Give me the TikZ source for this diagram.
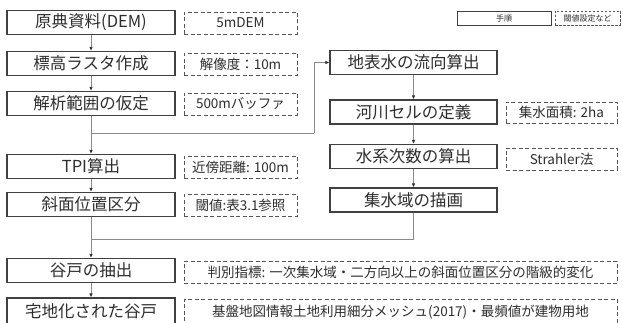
\documentclass[tikz,border=0pt]{standalone}
\usepackage{fontspec}
\setmainfont{Noto Sans CJK JP}
\usetikzlibrary{arrows.meta}
\definecolor{boxc}{HTML}{404040}
\definecolor{dashc}{HTML}{555555}
\definecolor{txtc}{HTML}{2E2E2E}
\definecolor{linec}{HTML}{8A8A8A}
\definecolor{arrc}{HTML}{333333}
\tikzset{
  stepbox/.style={draw=boxc, line width=1.1pt, minimum height=24pt, inner sep=0pt, text=txtc, font=\fontsize{16.5}{18}\selectfont},
  leftbox/.style={stepbox, minimum width=168pt},
  rightbox/.style={stepbox, minimum width=167pt},
  parambox/.style={draw=dashc, line width=0.9pt, dash pattern=on 4pt off 2.5pt, inner sep=0pt, minimum height=22pt, text=txtc, font=\fontsize{13.5}{15}\selectfont},
  conn/.style={draw=linec, line width=0.8pt},
  arr/.style={conn, -{Latex[length=4pt,width=3.5pt,color=arrc]}},
  legsolid/.style={draw=boxc, line width=0.7pt, inner sep=0pt, minimum height=14pt, text=txtc, font=\fontsize{8}{9}\selectfont},
  legdash/.style={legsolid, draw=dashc, dash pattern=on 2.5pt off 1.5pt}
}
\begin{document}
\begin{tikzpicture}[x=1pt,y=-1pt]
\fill[white] (0,0) rectangle (623,323);
\useasboundingbox (0,0) rectangle (623,323);
% left column
\node[leftbox] (n1) at (91,22.5) {原典資料(DEM)};
\node[leftbox] (n2) at (91,63.5) {標高ラスタ作成};
\node[leftbox] (n3) at (91,103.5) {解析範囲の仮定};
\node[leftbox] (n4) at (91,166.5) {TPI算出};
\node[leftbox] (n5) at (91,204.5) {斜面位置区分};
\node[leftbox] (n6) at (91,270.5) {谷戸の抽出};
\node[leftbox, minimum height=26pt] (n7) at (91,311) {宅地化された谷戸};
% parameter boxes
\node[parambox, minimum width=113pt] (d1) at (240.5,23) {5mDEM};
\node[parambox, minimum width=113pt] (d2) at (240.5,64.5) {解像度：10m};
\node[parambox, minimum width=113pt] (d3) at (240.5,104) {500mバッファ};
\node[parambox, minimum width=113pt] (d4) at (240.5,167) {近傍距離: 100m};
\node[parambox, minimum width=113pt] (d5) at (240.5,205.5) {閾値:表3.1参照};
\node[parambox, minimum width=433pt] (d6) at (400.5,272) {判別指標: 一次集水域・二方向以上の斜面位置区分の階級的変化};
\node[parambox, minimum width=433pt, minimum height=26pt] (d7) at (400.5,312) {基盤地図情報土地利用細分メッシュ(2017)・最頻値が建物用地};
% right column
\node[rightbox] (r1) at (413.5,62.5) {地表水の流向算出};
\node[rightbox] (r2) at (413.5,112) {河川セルの定義};
\node[rightbox] (r3) at (413.5,156.5) {水系次数の算出};
\node[rightbox] (r4) at (413.5,200) {集水域の描画};
\node[parambox, minimum width=111pt, minimum height=21pt] (rd2) at (561.5,112.5) {集水面積: 2ha};
\node[parambox, minimum width=111pt] (rd3) at (561.5,159) {Strahler法};
% legend
\node[legsolid, minimum width=94pt] (lg1) at (504,18) {手順};
\node[legdash, minimum width=65pt] (lg2) at (587.5,18) {閾値設定など};
% junctions
\coordinate (j1) at (91,133);
\coordinate (j2) at (314,133);
\coordinate (j4) at (91,239);
% connectors
\draw[arr] (n1) -- (n2);
\draw[arr] (n2) -- (n3);
\draw[arr] (n3) -- (n4);
\draw[conn] (j1) -- (j2);
\draw[arr] (j2) |- (r1.west);
\draw[arr] (n4) -- (n5);
\draw[arr] (n5) -- (n6);
\draw[conn] (r4.south) |- (j4);
\draw[arr] (n6) -- (n7);
\draw[arr] (r1) -- (r2);
\draw[arr] (r2) -- (r3);
\draw[arr] (r3) -- (r4);
\end{tikzpicture}
\end{document}
